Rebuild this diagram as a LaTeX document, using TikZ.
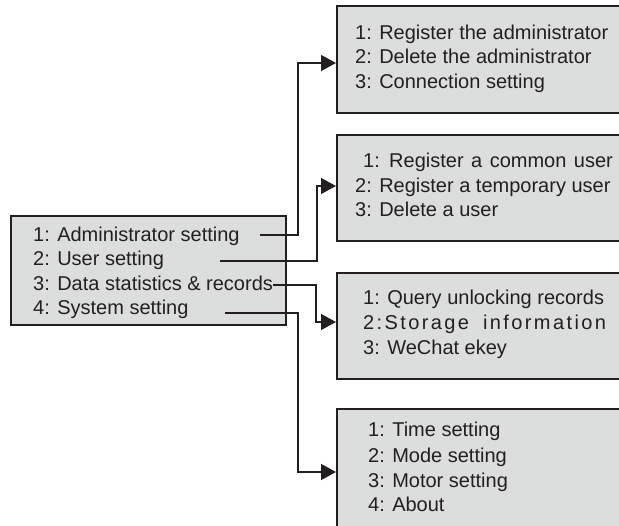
\documentclass[tikz,border=0pt]{standalone}
\usepackage{fontspec}
\setmainfont{Liberation Sans}
\usetikzlibrary{arrows.meta}
\definecolor{boxgray}{HTML}{DCDDDD}
\definecolor{ink}{HTML}{231F20}
\tikzset{
  box/.style={draw=ink, fill=boxgray, line width=1.8pt, rectangle, inner sep=0pt, anchor=north west},
  txt/.style={anchor=base west, inner sep=0pt, text=ink, font=\fontsize{20}{24}\selectfont},
  conn/.style={draw=ink, line width=1.3pt, -{Triangle[length=15pt,width=16pt]}},
}
\begin{document}
\begin{tikzpicture}[x=1pt,y=-1pt]
\useasboundingbox (0,0) rectangle (619,526);
% boxes
\node[box, minimum width=275pt, minimum height=109pt] (main) at (10,215) {};
\node[box, minimum width=300pt, minimum height=107pt] (b1) at (336,5) {};
\node[box, minimum width=300pt, minimum height=106pt] (b2) at (336,134) {};
\node[box, minimum width=300pt, minimum height=106pt] (b3) at (336,272) {};
\node[box, minimum width=300pt, minimum height=140pt] (b4) at (336,408) {};
% main texts
\node[txt] (m1) at (33,241.5) {1: Administrator setting};
\node[txt] (m2) at (33,266) {2: User setting};
\node[txt] (m3) at (33,290.5) {3: Data statistics \& records};
\node[txt] (m4) at (33,315) {4: System setting};
% box 1
\node[txt] (a1) at (355,39.5) {1: Register the administrator};
\node[txt] (a2) at (355,64) {2: Delete the administrator};
\node[txt] (a3) at (355,88.5) {3: Connection setting};
% box 2
\node[txt] (u1) at (363,168) {\spaceskip=7.5pt 1: Register a common user};
\node[txt] (u2) at (355,192.5) {2: Register a temporary user};
\node[txt] (u3) at (355,217) {3: Delete a user};
% box 3
\node[txt] (d1) at (363,305) {1: Query unlocking records};
\node[txt] (d2) at (363,330) {\addfontfeature{LetterSpace=12}2:Storage\hspace{6pt} information};
\node[txt] (d3) at (363,355) {3: WeChat ekey};
% box 4
\node[txt] (s1t) at (368,437) {1: Time setting};
\node[txt] (s2t) at (368,462.5) {2: Mode setting};
\node[txt] (s3t) at (368,487.5) {3: Motor setting};
\node[txt] (s4t) at (368,512) {4: About};
% connector ends
\coordinate (c1) at (260,235);
\coordinate (c2) at (220,261);
\coordinate (c3) at (m3.east |- 0,285);
\coordinate (c4) at (225,313);
\coordinate (e1) at (b1.west |- 0,63);
\coordinate (e2) at (b2.west |- 0,186);
\coordinate (e3) at (b3.west |- 0,322);
\coordinate (e4) at (b4.west |- 0,472);
\draw[conn] (c1) -- ++(38,0) |- (e1);
\draw[conn] (c2) -- ++(97,0) |- (e2);
\draw[conn] (c3) -- (316,285) |- (e3);
\draw[conn] (c4) -- ++(73,0) |- (e4);
\end{tikzpicture}
\end{document}
